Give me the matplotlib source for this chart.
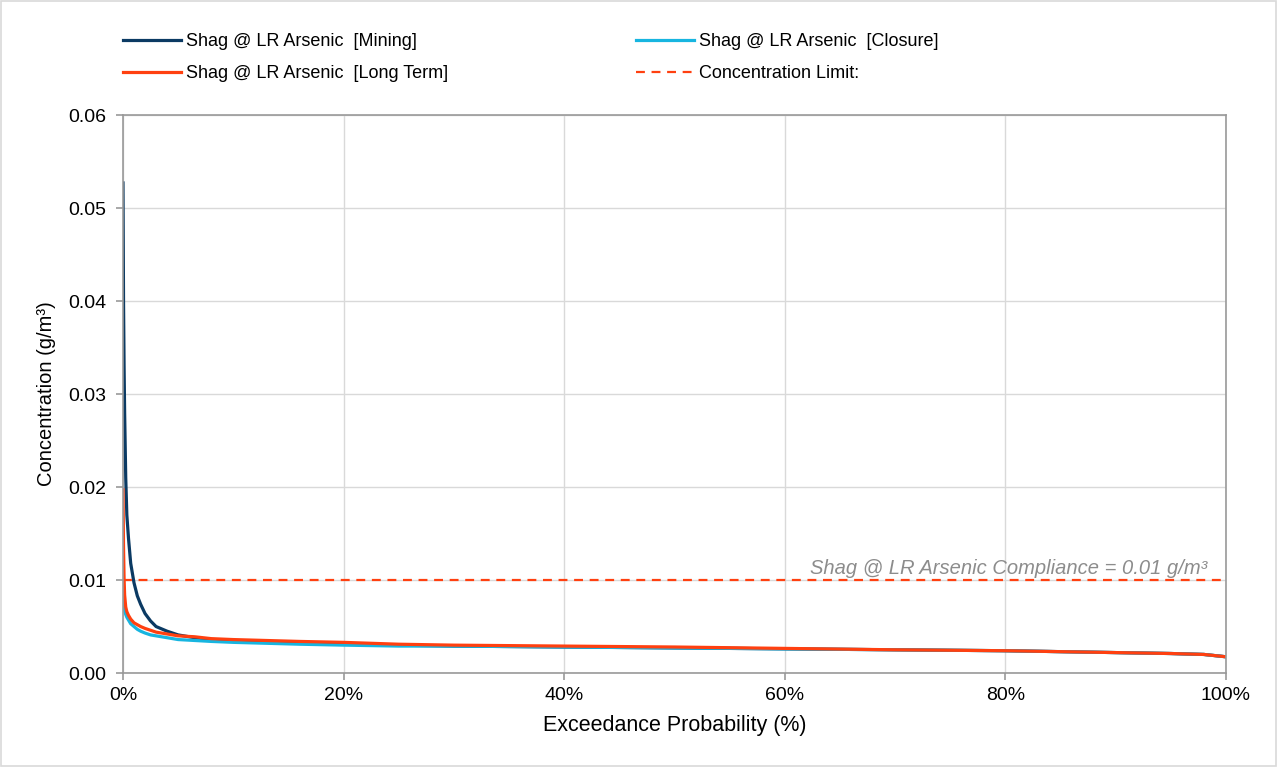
import matplotlib.pyplot as plt
from matplotlib.patches import Rectangle
from matplotlib.ticker import FuncFormatter, MultipleLocator

plt.rcParams["font.family"] = ["Liberation Sans", "DejaVu Sans"]

# exceedance probability (%) shared by all series
exceedance = [0, 0.05, 0.1, 0.15, 0.25, 0.35, 0.5, 0.7, 1.0, 1.3, 1.6, 2.0, 2.5,
              3.0, 4.0, 5.0, 6.5, 8, 10, 13, 16, 20, 25, 30, 40, 50, 60, 70,
              80, 90, 95, 98, 100]

mining = [0.0527, 0.040, 0.033, 0.028, 0.021, 0.017, 0.0145, 0.0118, 0.0097,
          0.0083, 0.0074, 0.0064, 0.0056, 0.0050, 0.0045, 0.0041, 0.0038,
          0.0036, 0.0034, 0.0033, 0.0032, 0.0031, 0.0030, 0.0029, 0.0028,
          0.0027, 0.0026, 0.0025, 0.0024, 0.0022, 0.0021, 0.0020, 0.00175]

closure = [0.0084, 0.0076, 0.0071, 0.0067, 0.0063, 0.0060, 0.0057, 0.0053,
           0.0050, 0.0047, 0.0045, 0.0043, 0.0041, 0.0040, 0.0038, 0.0036,
           0.0035, 0.0034, 0.0033, 0.0032, 0.0031, 0.0030, 0.0029, 0.0029,
           0.0028, 0.0027, 0.0026, 0.0025, 0.0024, 0.0022, 0.0021, 0.0020,
           0.00175]

long_term = [0.0197, 0.0135, 0.0102, 0.0084, 0.0071, 0.0066, 0.0062, 0.0058,
             0.0054, 0.0052, 0.0050, 0.0048, 0.0046, 0.0044, 0.0042, 0.0040,
             0.0039, 0.0037, 0.0036, 0.0035, 0.0034, 0.0033, 0.0031, 0.0030,
             0.0029, 0.0028, 0.00265, 0.0025, 0.0024, 0.0022, 0.0021, 0.0020,
             0.00175]

limit = 0.01
limit_text = "Shag @ LR Arsenic Compliance = 0.01 g/m³"

fig = plt.figure(figsize=(12.77, 7.67), dpi=100)
ax = fig.add_axes([0.0963, 0.1225, 0.8637, 0.7275])

l_mining, = ax.plot(exceedance, mining, color="#0B3A63", lw=2.3,
                    label="Shag @ LR Arsenic  [Mining]")
l_closure, = ax.plot(exceedance, closure, color="#17B5E0", lw=2.3,
                     label="Shag @ LR Arsenic  [Closure]")
l_long, = ax.plot(exceedance, long_term, color="#FF4010", lw=2.3,
                  label="Shag @ LR Arsenic  [Long Term]")
l_limit = ax.axhline(limit, color="#FF4010", lw=1.6, ls=(0, (4, 3)),
                     label="Concentration Limit:")

ax.text(98.3, limit + 0.0002, limit_text, ha="right", va="bottom",
        fontsize=14.5, style="italic", color="#8C8C8C")

ax.set_xlim(0, 100)
ax.set_ylim(0, 0.06)
ax.xaxis.set_major_locator(MultipleLocator(20))
ax.yaxis.set_major_locator(MultipleLocator(0.01))
ax.xaxis.set_major_formatter(FuncFormatter(lambda v, p: f"{v:.0f}%"))
ax.yaxis.set_major_formatter(FuncFormatter(lambda v, p: f"{v:.2f}"))
ax.grid(True, color="#D9D9D9", lw=1)
ax.set_axisbelow(True)
for side in ["left", "bottom", "right", "top"]:
    ax.spines[side].set_color("#999999")
    ax.spines[side].set_linewidth(1.2)
ax.tick_params(colors="#999999", labelcolor="black", labelsize=14,
               length=5, width=1.2)
ax.tick_params(axis="y", pad=7)
ax.tick_params(axis="x", pad=5)

ax.set_xlabel("Exceedance Probability (%)", fontsize=15.5, labelpad=8)
ax.set_ylabel("Concentration (g/m³)", fontsize=14.5, labelpad=9)

fig.legend(handles=[l_mining, l_long, l_closure, l_limit], ncol=2,
           loc="upper left", bbox_to_anchor=(0.0835, 0.978), frameon=False,
           fontsize=13, handlelength=3.2, handletextpad=0.3,
           columnspacing=10.4, labelspacing=0.85)

fig.patches.append(Rectangle((0.001, 0.001), 0.998, 0.998,
                             transform=fig.transFigure, fill=False,
                             edgecolor="#D9D9D9", lw=1.2))

fig.savefig("out.png", dpi=100)
